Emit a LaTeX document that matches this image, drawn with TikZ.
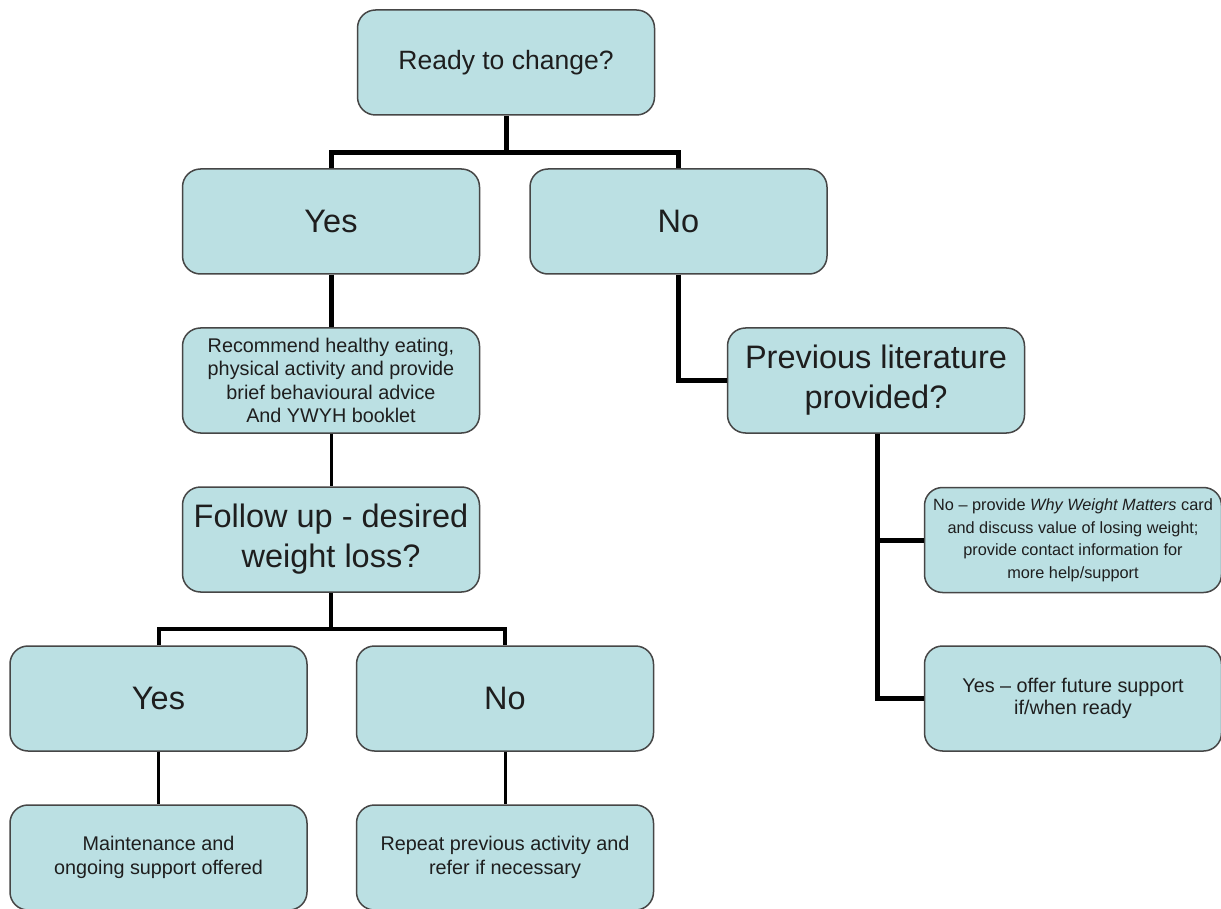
\documentclass[tikz,border=0pt]{standalone}
\usepackage{fontspec}
\setmainfont{Liberation Sans}
\definecolor{boxfill}{RGB}{187,224,227}
\definecolor{boxline}{RGB}{70,70,70}
\definecolor{txt}{RGB}{30,30,30}
\tikzset{
  flowbox/.style={draw=boxline, line width=1.5pt, fill=boxfill, rounded corners=18pt,
    minimum width=297pt, minimum height=105pt, align=center, text=txt, inner sep=0pt},
  bigtxt/.style={font=\fontsize{32.5}{39.5}\selectfont},
  midtxt/.style={font=\fontsize{26.5}{31}\selectfont},
  smalltxt/.style={font=\fontsize{19.8}{23.5}\selectfont},
  tinytxt/.style={font=\fontsize{16.3}{22.8}\selectfont},
  conn/.style={draw=black, line width=5pt, line join=miter},
  connthin/.style={draw=black, line width=3pt, line join=miter},
  connmid/.style={draw=black, line width=4pt, line join=miter}
}
\begin{document}
\begin{tikzpicture}[x=1pt,y=-1pt]
\useasboundingbox[fill=white] (0,0) rectangle (1221,909);
\clip (0,0) rectangle (1221,909);

% nodes
\node[flowbox, midtxt] (ready) at (506,62.5) {Ready to change?};
\node[flowbox, bigtxt] (yes1) at (331,221.5) {Yes};
\node[flowbox, bigtxt] (no1) at (678.5,221.5) {No};
\node[flowbox, smalltxt] (rec) at (331,380.5) {Recommend healthy eating,\\physical activity and provide\\brief behavioural advice\\And YWYH booklet};
\node[flowbox, bigtxt] (prev) at (876,380.5) {\raisebox{-4pt}{\begin{tabular}{@{}c@{}}Previous literature\\provided?\end{tabular}}};
\node[flowbox, bigtxt] (follow) at (331,539.5) {\raisebox{-3pt}{\begin{tabular}{@{}c@{}}Follow up - desired\\weight loss?\end{tabular}}};
\node[flowbox, tinytxt] (r1) at (1073,540) {\raisebox{-6pt}{\begin{tabular}{@{}c@{}}No -- provide \textit{Why Weight Matters} card\\and discuss value of losing weight;\\provide contact information for\\more help/support\end{tabular}}};
\node[flowbox, bigtxt] (yes2) at (158.5,698.5) {Yes};
\node[flowbox, bigtxt] (no2) at (505,698.5) {No};
\node[flowbox, smalltxt, font=\fontsize{19.8}{22}\selectfont] (r2) at (1073,698.5) {Yes -- offer future support\\if/when ready};
\node[flowbox, smalltxt, font=\fontsize{19.8}{24}\selectfont] (maint) at (158.5,857.5) {Maintenance and\\ongoing support offered};
\node[flowbox, smalltxt, font=\fontsize{19.8}{24}\selectfont] (rep) at (505,857.5) {Repeat previous activity and\\refer if necessary};

% junction points
\coordinate (j1) at (506,153);
\coordinate (j2) at (331,629);
\coordinate (j3) at (877,698.5);

% connectors
\draw[conn] (ready.south) -- (j1);
\draw[conn] (yes1.north) |- (j1) -| (no1.north);
\draw[conn] (yes1.south) -- (rec.north);
\draw[connthin] (rec.south) -- (follow.north);
\draw[connmid] (follow.south) -- (j2);
\draw[connmid] (yes2.north) |- (j2) -| (no2.north);
\draw[connthin] (yes2.south) -- (maint.north);
\draw[connthin] (no2.south) -- (rep.north);
\draw[conn] (no1.south) |- (prev.west);
\draw[conn] (prev.south -| j3) |- (r2.west);
\draw[conn] (prev.south -| j3) |- (r1.west);
\end{tikzpicture}
\end{document}
